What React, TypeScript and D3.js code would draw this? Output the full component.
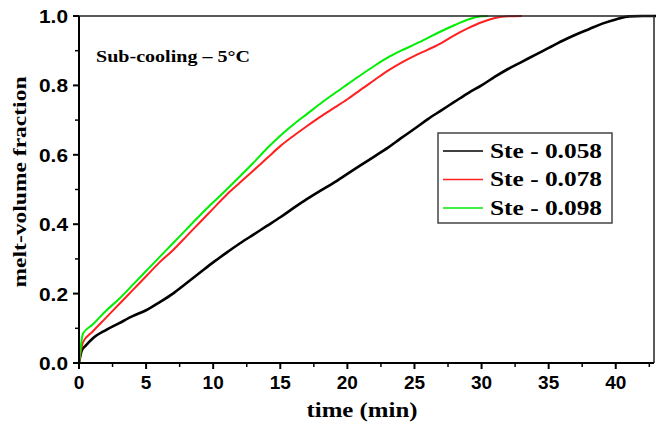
import React from "react";
import * as d3 from "d3";

const black_t = [0, 0.2, 0.5, 1, 2, 3, 4, 5, 6, 7, 8, 9, 10, 11, 12, 13, 14, 15, 16, 17, 18, 19, 20, 21, 22, 23, 24, 25, 26, 27, 28, 29, 30, 31, 32, 33, 34, 35, 36, 37, 38, 39, 40, 41, 42, 43];
const black_v = [0, 0.035, 0.05, 0.07, 0.095, 0.115, 0.135, 0.152, 0.175, 0.2, 0.23, 0.26, 0.29, 0.318, 0.345, 0.37, 0.395, 0.42, 0.447, 0.473, 0.497, 0.52, 0.545, 0.57, 0.595, 0.62, 0.648, 0.675, 0.703, 0.728, 0.753, 0.778, 0.8, 0.825, 0.848, 0.868, 0.888, 0.908, 0.928, 0.946, 0.962, 0.978, 0.99, 0.999, 1.0, 1.0];

const red_t = [0, 0.3, 1, 2, 3, 4, 5, 6, 7, 8, 9, 10, 11, 12, 13, 14, 15, 16, 17, 18, 19, 20, 21, 22, 23, 24, 25, 26, 27, 28, 29, 30, 31, 32, 33];
const red_v = [0, 0.06, 0.09, 0.13, 0.17, 0.21, 0.25, 0.29, 0.325, 0.365, 0.405, 0.445, 0.485, 0.52, 0.555, 0.59, 0.625, 0.655, 0.683, 0.71, 0.735, 0.76, 0.788, 0.815, 0.842, 0.865, 0.885, 0.903, 0.922, 0.945, 0.965, 0.982, 0.994, 0.999, 1.0];

const green_t = [0, 0.3, 1, 2, 3, 4, 5, 6, 7, 8, 9, 10, 11, 12, 13, 14, 15, 16, 17, 18, 19, 20, 21, 22, 23, 24, 25, 26, 27, 28, 29, 30, 30.5];
const green_v = [0, 0.085, 0.11, 0.15, 0.185, 0.225, 0.265, 0.305, 0.345, 0.385, 0.425, 0.463, 0.5, 0.538, 0.577, 0.618, 0.655, 0.688, 0.718, 0.748, 0.776, 0.803, 0.83, 0.856, 0.88, 0.9, 0.918, 0.937, 0.956, 0.974, 0.99, 0.999, 1.0];

const seriesNames = ["Ste - 0.058", "Ste - 0.078", "Ste - 0.098"];
const seriesColors = ["#000000", "#ff2020", "#00ee00"];

const xTicks = [0, 5, 10, 15, 20, 25, 30, 35, 40];
const xMinor = [2.5, 7.5, 12.5, 17.5, 22.5, 27.5, 32.5, 37.5, 42.5];
const yTicks = [0, 0.2, 0.4, 0.6, 0.8, 1.0];
const yMinor = [0.1, 0.3, 0.5, 0.7, 0.9];

export default function App() {
  const W = 656, H = 422;
  const L = 79, R = 654, T = 16, B = 363;
  const x = d3.scaleLinear().domain([0, 42.85]).range([L, R]);
  const y = d3.scaleLinear().domain([0, 1]).range([B, T]);
  const line = d3.line<[number, number]>().x(d => x(d[0])).y(d => y(d[1])).curve(d3.curveMonotoneX);
  const series = [
    black_t.map((t, i) => [t, black_v[i]] as [number, number]),
    red_t.map((t, i) => [t, red_v[i]] as [number, number]),
    green_t.map((t, i) => [t, green_v[i]] as [number, number]),
  ];
  const widths = [2.6, 2, 2];
  const sans = "'Liberation Sans', Arial, sans-serif";
  const serif = "'Liberation Serif', 'Times New Roman', serif";
  return (
    <div style={{ position: "absolute", left: 0, top: 0 }}>
      <svg width={W} height={H} style={{ display: "block", background: "#fff" }}>
        {series.map((s, i) => (
          <path key={i} d={line(s) || ""} fill="none" stroke={seriesColors[i]} strokeWidth={widths[i]} strokeLinejoin="round" />
        ))}
        {/* frame */}
        <line x1={L} x2={R} y1={T} y2={T} stroke="#222" strokeWidth={1.5} />
        <line x1={R} x2={R} y1={T} y2={B} stroke="#222" strokeWidth={1.5} />
        <line x1={L} x2={L} y1={T} y2={B + 1} stroke="#000" strokeWidth={2} />
        <line x1={L - 1} x2={R} y1={B} y2={B} stroke="#000" strokeWidth={2} />
        {/* y ticks */}
        {yTicks.map(v => (
          <g key={"y" + v}>
            <line x1={L - 6} x2={L} y1={y(v)} y2={y(v)} stroke="#000" strokeWidth={2} />
            <text x={68} y={y(v) + 7} textAnchor="end" fontFamily={sans} fontWeight="bold" fontSize={19} textLength={29} lengthAdjust="spacingAndGlyphs">{v.toFixed(1)}</text>
          </g>
        ))}
        {yMinor.map(v => (
          <line key={"ym" + v} x1={L - 4} x2={L} y1={y(v)} y2={y(v)} stroke="#000" strokeWidth={1.5} />
        ))}
        {/* x ticks */}
        {xTicks.map(v => (
          <g key={"x" + v}>
            <line x1={x(v)} x2={x(v)} y1={B} y2={B + 6} stroke="#000" strokeWidth={2} />
            <text x={x(v)} y={389} textAnchor="middle" fontFamily={sans} fontWeight="bold" fontSize={19}>{String(v)}</text>
          </g>
        ))}
        {xMinor.map(v => (
          <line key={"xm" + v} x1={x(v)} x2={x(v)} y1={B} y2={B + 4} stroke="#000" strokeWidth={1.5} />
        ))}
        {/* axis labels */}
        <text x={362} y={417} textAnchor="middle" fontFamily={serif} fontWeight="bold" fontSize={20} textLength={111} lengthAdjust="spacingAndGlyphs">time (min)</text>
        <text transform="translate(26,182) rotate(-90)" textAnchor="middle" fontFamily={serif} fontWeight="bold" fontSize={19} textLength={211} lengthAdjust="spacingAndGlyphs">melt-volume fraction</text>
        {/* annotation */}
        <text x={96} y={62} fontFamily={serif} fontWeight="bold" fontSize={16} textLength={154} lengthAdjust="spacingAndGlyphs">Sub-cooling – 5°C</text>
        {/* legend */}
        <rect x={438} y={133} width={174} height={90} fill="#fff" stroke="#444" strokeWidth={1.5} />
        {seriesNames.map((n, i) => (
          <g key={n}>
            <line x1={443} x2={483} y1={151 + i * 28.5} y2={151 + i * 28.5} stroke={seriesColors[i]} strokeWidth={1.5} />
            <text x={490} y={157.5 + i * 28.5} fontFamily={serif} fontWeight="bold" fontSize={21} textLength={112} lengthAdjust="spacingAndGlyphs">{n}</text>
          </g>
        ))}
      </svg>
    </div>
  );
}
